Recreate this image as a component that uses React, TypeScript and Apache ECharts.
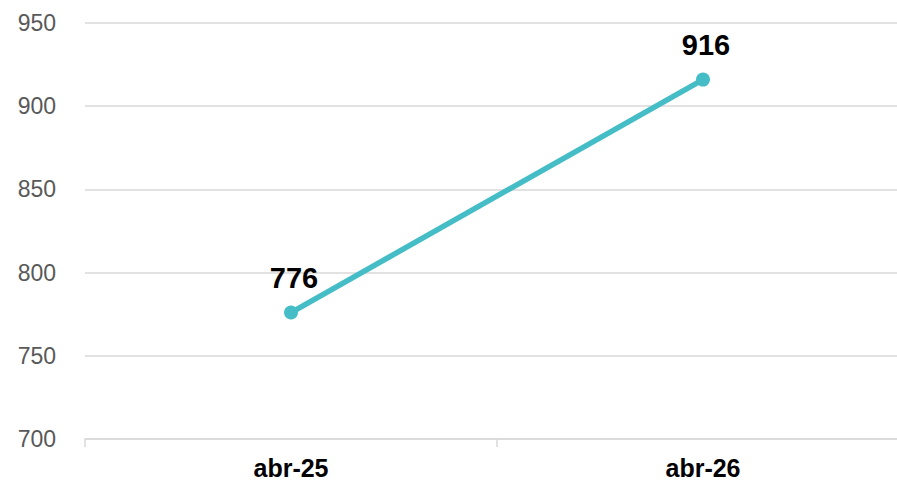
import React, { useEffect, useRef } from "react";
import * as echarts from "echarts";

const categories = ["abr-25", "abr-26"];
const values = [776, 916];
const yTicks = { min: 700, max: 950, interval: 50 };

export default function App() {
  const ref = useRef<HTMLDivElement>(null);
  useEffect(() => {
    if (!ref.current) return;
    const chart = echarts.init(ref.current, undefined, { renderer: "svg" });
    const font = "'Liberation Sans', Arial, sans-serif";
    chart.setOption({
      animation: false,
      grid: { left: 85, right: 0, top: 23, bottom: 43, containLabel: false },
      xAxis: {
        type: "category",
        data: categories,
        boundaryGap: true,
        axisLine: { show: true, lineStyle: { color: "#d9d9d9", width: 1.5 } },
        axisTick: { show: true, length: 8, lineStyle: { color: "#d9d9d9", width: 1.5 } },
        axisLabel: {
          color: "#000",
          fontSize: 25,
          lineHeight: 22,
          fontWeight: "bold",
          fontFamily: font,
          margin: 18,
        },
        splitLine: { show: false },
      },
      yAxis: {
        type: "value",
        min: yTicks.min,
        max: yTicks.max,
        interval: yTicks.interval,
        axisLine: { show: false },
        axisTick: { show: false },
        axisLabel: { color: "#595959", fontSize: 23, fontFamily: font, margin: 29 },
        splitLine: { lineStyle: { color: "#d9d9d9", width: 1.5 } },
      },
      series: [
        {
          type: "line",
          data: values,
          symbol: "circle",
          symbolSize: 14,
          lineStyle: { color: "#45BDC6", width: 5.5 },
          itemStyle: { color: "#45BDC6" },
          label: {
            show: true,
            position: "top",
            distance: 13,
            offset: [3, 0],
            color: "#000",
            fontSize: 29,
            fontWeight: "bold",
            fontFamily: font,
          },
        },
      ],
    });
    return () => chart.dispose();
  }, []);
  return (
    <div style={{ position: "absolute", left: 0, top: 0, width: 897, height: 482, overflow: "hidden", background: "#fff" }}>
      <div ref={ref} style={{ width: 909, height: 482 }} />
    </div>
  );
}
